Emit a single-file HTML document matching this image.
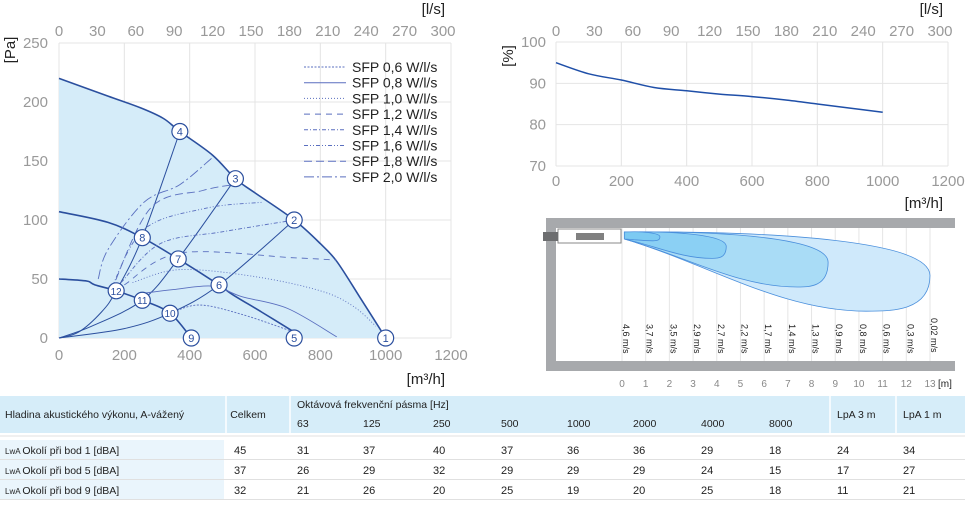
<!DOCTYPE html>
<html><head><meta charset="utf-8"><style>
body{margin:0;background:#fff;font-family:"Liberation Sans","DejaVu Sans",sans-serif;}
svg text{font-family:"Liberation Sans",sans-serif;}
</style></head><body>
<svg width="965" height="502" viewBox="0 0 965 502" xmlns="http://www.w3.org/2000/svg">
<g id="main"></g>
<g id="eff"></g>
<g id="jet"></g>
<g id="tbl"></g>
</svg>
<script>
// ---- main chart data ----
const xTicks=[0,200,400,600,800,1000,1200];
const lsTicks=[0,30,60,90,120,150,180,210,240,270,300];
const yTicks=[0,50,100,150,200,250];
const envelope=[[0,220],[150,205],[250,195],[320,186],[370,175],[470,155],[540,135],[600,123],[720,100],[800,80],[850,65],[920,35],[1000,0]];
const midCurve=[[0,107],[150,98],[255,85],[365,67],[490,45],[530,37],[620,22],[720,5]];
const lowCurve=[[0,50],[60,49],[90,48],[110,45],[175,40],[255,32],[340,21],[405,0]];
const sysA=[[0,0],[60,5],[130,22],[175,40],[255,85],[370,175]];
const sysB=[[0,0],[100,10],[255,32],[365,67],[540,135]];
const sysC=[[0,0],[200,8],[340,21],[490,45],[720,100]];
const sfp06=[[340,21],[430,28],[560,20],[720,5]];
const sfp08=[[260,38],[350,41],[470,44],[560,35],[700,25],[850,1]];
const sfp10=[[225,47],[370,58],[600,52],[800,40],[900,27],[970,10]];
const sfp12=[[200,45],[370,72],[720,68],[850,66]];
const sfp14=[[190,47],[310,80],[500,90],[720,100]];
const sfp16=[[160,42],[260,92],[450,110],[620,115]];
const sfp18=[[160,40],[280,110],[440,125],[535,130]];
const sfp20=[[120,50],[150,75],[260,115],[370,130],[470,153]];
const sfpNames=["SFP 0,6 W/l/s","SFP 0,8 W/l/s","SFP 1,0 W/l/s","SFP 1,2 W/l/s","SFP 1,4 W/l/s","SFP 1,6 W/l/s","SFP 1,8 W/l/s","SFP 2,0 W/l/s"];
const markerLabels=["1","2","3","4","5","6","7","8","9","10","11","12"];
const markerQ=[1000,720,540,370,720,490,365,255,405,340,255,175];
const markerP=[0,100,135,175,0,45,67,85,0,21,32,40];
// ---- efficiency data ----
const effX=[0,100,200,300,400,500,600,700,800,900,1000];
const effY=[95,92.3,90.8,89,88.2,87.4,86.8,86,85,84,83];
const effYTicks=[70,80,90,100];
// ---- jet data ----
const jetM=[0,1,2,3,4,5,6,7,8,9,10,11,12,13];
const jetV=["4,6 m/s","3,7 m/s","3,5 m/s","2,9 m/s","2,7 m/s","2,2 m/s","1,7 m/s","1,4 m/s","1,3 m/s","0,9 m/s","0,8 m/s","0,6 m/s","0,3 m/s","0,02 m/s"];
const plumeLen=[13,8.7,4.4,1.6];
const plumeBottomM=[10.3,7.4,3.8,1.3];
const plumeDepth=[3.6,2.5,1.2,0.4];
// ---- table data ----
const tblBands=["63","125","250","500","1000","2000","4000","8000"];
const tblRows=["Okolí při bod 1 [dBA]","Okolí při bod 5 [dBA]","Okolí při bod 9 [dBA]"];
const tblTotal=[45,37,32];
const tblVals=[[31,37,40,37,36,36,29,18],[26,29,32,29,29,29,24,15],[21,26,20,25,19,20,25,18]];
const tblLpa3=[24,17,11];
const tblLpa1=[34,27,21];

const NS="http://www.w3.org/2000/svg";
function mk(p,t,a,txt){const e=document.createElementNS(NS,t);for(const k in a)e.setAttribute(k,a[k]);if(txt!==undefined)e.textContent=txt;p.appendChild(e);return e;}
function path(pts,fx,fy){
  const P=pts.map(p=>[fx(p[0]),fy(p[1])]);
  let d="M"+P[0][0].toFixed(1)+","+P[0][1].toFixed(1);
  for(let i=0;i<P.length-1;i++){
    const p0=P[i-1]||P[i],p1=P[i],p2=P[i+1],p3=P[i+2]||P[i+1];
    const c1=[p1[0]+(p2[0]-p0[0])/6,p1[1]+(p2[1]-p0[1])/6];
    const c2=[p2[0]-(p3[0]-p1[0])/6,p2[1]-(p3[1]-p1[1])/6];
    d+=` C${c1[0].toFixed(1)},${c1[1].toFixed(1)} ${c2[0].toFixed(1)},${c2[1].toFixed(1)} ${p2[0].toFixed(1)},${p2[1].toFixed(1)}`;
  }
  return d;}

// main chart
const M=document.getElementById('main');
const mx=q=>59+q*(392/1200), my=p=>338-p*(295/250);
xTicks.forEach(t=>{const l=mk(M,'line',{x1:mx(t),x2:mx(t),y1:43,y2:338,stroke:'#e4e4e4'});

const tx=mk(M,'text',{x:mx(t),y:360,'text-anchor':'middle','font-size':15,fill:'#999'},t);
});
yTicks.forEach(t=>{const l=mk(M,'line',{x1:59,x2:451,y1:my(t),y2:my(t),stroke:'#e4e4e4'});

const tx=mk(M,'text',{x:48,y:my(t)+5,'text-anchor':'end','font-size':15,fill:'#999'},t);
});
lsTicks.forEach((t,i)=>{const x=59+i*(384/10);
const tx=mk(M,'text',{x:x,y:36,'text-anchor':'middle','font-size':15,fill:'#999'},t);
});
let t1=mk(M,'text',{x:445,y:14,'text-anchor':'end','font-size':15,fill:'#222'},'[l/s]');
let t2=mk(M,'text',{x:445,y:384,'text-anchor':'end','font-size':15,fill:'#222'},'[m³/h]');
let t3=mk(M,'text',{x:0,y:0,transform:'translate(15,50) rotate(-90)','text-anchor':'middle','font-size':15,fill:'#222'},'[Pa]');
let area=mk(M,'path',{d:path(envelope,mx,my)+` L${mx(0)},${my(0)} Z`,fill:'#d5ecf9',stroke:'none'});

[[envelope,1.6],[midCurve,1.6],[lowCurve,1.6],[sysA,1],[sysB,1],[sysC,1]].forEach(([c,w])=>{
const e=mk(M,'path',{d:path(c,mx,my),fill:'none',stroke:'#2b4f9e','stroke-width':w});
});
const sfps=[sfp06,sfp08,sfp10,sfp12,sfp14,sfp16,sfp18,sfp20];
const dashes=['2,1.5','','1,2','6,5','4,2,1,2','4,2,1,2,1,2','8,4','10,3,2,3'];
sfps.forEach((c,i)=>{const e=mk(M,'path',{d:path(c,mx,my),fill:'none',stroke:'#5a6fbf','stroke-width':0.9,'stroke-dasharray':dashes[i]});

const ly=67+i*15.7;
const ll=mk(M,'line',{x1:304,x2:346,y1:ly,y2:ly,stroke:'#5a6fbf','stroke-width':1,'stroke-dasharray':dashes[i]});

const lt=mk(M,'text',{x:352,y:ly+5,'font-size':14,fill:'#222'},sfpNames[i]);
});
markerLabels.forEach((lab,i)=>{const g=mk(M,'g',{});
mk(g,'circle',{cx:mx(markerQ[i]),cy:my(markerP[i]),r:8,fill:'#fff',stroke:'#2b4f9e','stroke-width':1.2});
mk(g,'text',{x:mx(markerQ[i]),y:my(markerP[i])+4,'text-anchor':'middle','font-size':lab.length>1?10:11,fill:'#2b4f9e'},lab);});

// efficiency chart
const E=document.getElementById('eff');
const ex=q=>556+q*(392/1200), ey=v=>42+(100-v)*(124/30);
xTicks.forEach(t=>{mk(E,'line',{x1:ex(t),x2:ex(t),y1:42,y2:166,stroke:'#e4e4e4'});
const tx=mk(E,'text',{x:ex(t),y:186,'text-anchor':'middle','font-size':15,fill:'#999'},t);
});
effYTicks.forEach(t=>{mk(E,'line',{x1:556,x2:948,y1:ey(t),y2:ey(t),stroke:'#e4e4e4'});
const tx=mk(E,'text',{x:546,y:ey(t)+5,'text-anchor':'end','font-size':15,fill:'#999'},t);
});
lsTicks.forEach((t,i)=>{const tx=mk(E,'text',{x:556+i*(384/10),y:36,'text-anchor':'middle','font-size':15,fill:'#999'},t);
});
let e1=mk(E,'text',{x:943,y:14,'text-anchor':'end','font-size':15,fill:'#222'},'[l/s]');
let e2=mk(E,'text',{x:943,y:208,'text-anchor':'end','font-size':15,fill:'#222'},'[m³/h]');
let e3=mk(E,'text',{x:0,y:0,transform:'translate(513,56) rotate(-90)','text-anchor':'middle','font-size':15,fill:'#222'},'[%]');
const effPts=effX.map((x,i)=>[x,effY[i]]);
let el=mk(E,'path',{d:path(effPts,ex,ey),fill:'none',stroke:'#1f4fa8','stroke-width':1.5});


// jet diagram
const J=document.getElementById('jet');
const jx=m=>622+m*(308/13);
const jy=d=>232+d*22;
let w=mk(J,'path',{d:'M955,223 H551 V366 H955',fill:'none',stroke:'#a7a9ac','stroke-width':10});

jetM.forEach((m,i)=>{mk(J,'line',{x1:jx(m),x2:jx(m),y1:228,y2:361,stroke:'#e6e6e6'});
const tx=mk(J,'text',{x:jx(m),y:387,'text-anchor':'middle','font-size':10,fill:'#888'},m);
});
let jm=mk(J,'text',{x:938,y:387,'font-size':10,fill:'#222'},'[m]');
const fills=['#cfe9fb','#a9dcf6','#8bd0f4','#7ccaf2'];
plumeLen.forEach((L,i)=>{
const x0=jx(0.1),xe=jx(L),xb=jx(plumeBottomM[i]),yt=232,yb=jy(plumeDepth[i]);
const ym=yt+(yb-yt)*0.55;
const d=`M${x0},${yt} C${x0+(xe-x0)*0.5},${yt-1} ${xe},${yt+(ym-yt)*0.2} ${xe},${ym}`+
` C${xe},${yb} ${xb+(xe-xb)*0.4},${yb} ${xb},${yb}`+
` C${xb-(xb-x0)*0.35},${yb} ${x0+(xb-x0)*0.35},${yt+7+(yb-yt-7)*0.35} ${x0},${yt+7} Z`;
const p=mk(J,'path',{d:d,fill:fills[i],stroke:'#4a8fdc','stroke-width':0.8});
});
let fu=mk(J,'rect',{x:558,y:229,width:63,height:14,fill:'#fff',stroke:'#888'});
mk(J,'rect',{x:576,y:233,width:28,height:7,fill:'#808080'});
mk(J,'rect',{x:543,y:232,width:15,height:9,fill:'#6d6e70'});
jetV.forEach((v,i)=>{const tx=mk(J,'text',{x:0,y:0,transform:`translate(${jx(i)+1},${i==13?318:324}) rotate(90)`,'font-size':9,fill:'#222'},v);
});

// table
const T=document.getElementById('tbl');
mk(T,'rect',{x:0,y:396,width:965,height:37,fill:'#d6edf9'});
const colX=[297,363,433,501,567,633,701,769];
[226,290,830,896].forEach(x=>mk(T,'line',{x1:x,x2:x,y1:396,y2:433,stroke:'#fff','stroke-width':1.5}));
mk(T,'line',{x1:0,x2:965,y1:436,y2:436,stroke:'#e0e0e0'});
let h1=mk(T,'text',{x:5,y:418,'font-size':10.5,fill:'#222'},'Hladina akustického výkonu, A-vážený');
mk(T,'text',{x:248,y:418,'font-size':10.5,fill:'#222','text-anchor':'middle'},'Celkem');
mk(T,'text',{x:297,y:408,'font-size':10.5,fill:'#222'},'Oktávová frekvenční pásma [Hz]');
mk(T,'text',{x:837,y:418,'font-size':10.5,fill:'#222'},'LpA 3 m');
mk(T,'text',{x:903,y:418,'font-size':10.5,fill:'#222'},'LpA 1 m');
tblBands.forEach((b,i)=>{const tx=mk(T,'text',{x:colX[i],y:427,'font-size':10.5,fill:'#222'},b);});
tblRows.forEach((r,ri)=>{const y=440+ri*20;
mk(T,'rect',{x:0,y:y,width:224,height:19,fill:'#eaf5fc'});
mk(T,'line',{x1:0,x2:965,y1:y+19.5,y2:y+19.5,stroke:'#e0e0e0'});
const g=mk(T,'g',{});
const lt=mk(g,'text',{x:5,y:y+14,'font-size':10.5,fill:'#222'});
mk(lt,'tspan',{'font-size':8},'LwA ');mk(lt,'tspan',{},r);
mk(g,'text',{x:234,y:y+14,'font-size':11,fill:'#222'},tblTotal[ri]);
tblVals[ri].forEach((v,ci)=>mk(g,'text',{x:colX[ci],y:y+14,'font-size':11,fill:'#222'},v));
mk(g,'text',{x:837,y:y+14,'font-size':11,fill:'#222'},tblLpa3[ri]);
mk(g,'text',{x:903,y:y+14,'font-size':11,fill:'#222'},tblLpa1[ri]);});
</script>
</body></html>
